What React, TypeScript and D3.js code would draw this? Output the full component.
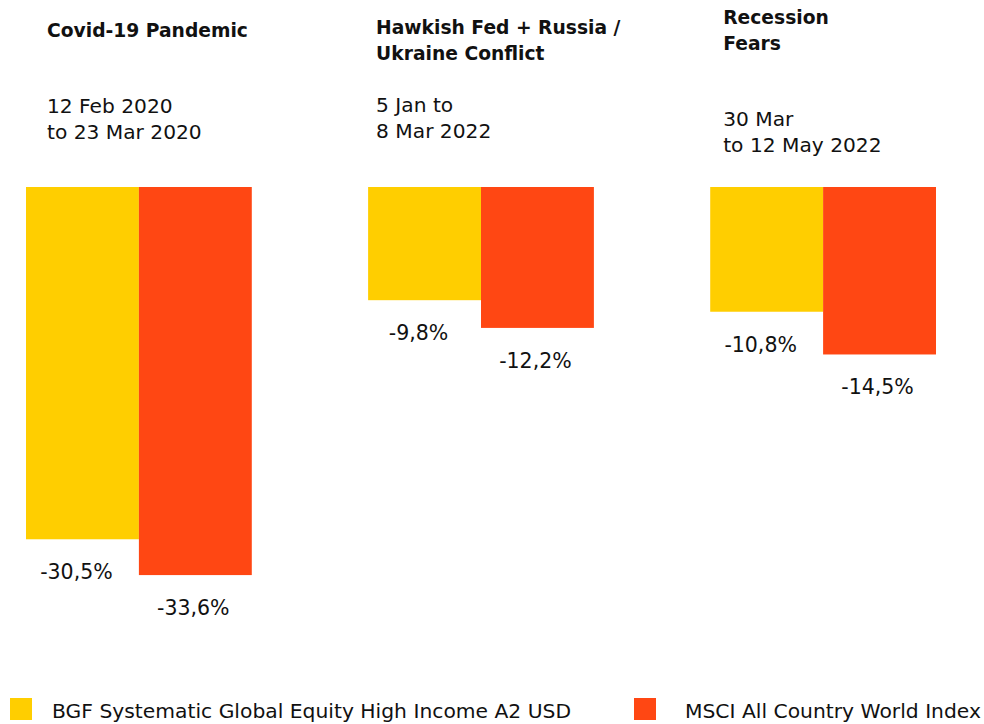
import React from "react";
import * as d3 from "d3";

// ---- data ----
const groups = ["Covid-19 Pandemic", "Hawkish Fed + Russia / Ukraine Conflict", "Recession Fears"];
const titleLines = [["Covid-19 Pandemic"], ["Hawkish Fed + Russia /", "Ukraine Conflict"], ["Recession", "Fears"]];
const dateLines = [["12 Feb 2020", "to 23 Mar 2020"], ["5 Jan to", "8 Mar 2022"], ["30 Mar", "to 12 May 2022"]];
const seriesNames = ["BGF Systematic Global Equity High Income A2 USD", "MSCI All Country World Index"];
const fundValues = [-30.5, -9.8, -10.8];
const indexValues = [-33.6, -12.2, -14.5];

// ---- layout ----
const W = 984;
const H = 724;
const COLORS = ["#FFCE00", "#FF4713"];
const FONT = "'DejaVu Sans', sans-serif";
const titleDx = [21, 8, 13];
const titleY = [37, 34, 24];
const dateY = [113, 112, 126];
const LINE = 25.5;
const legendSquareX = [10, 634];
const legendTextX = [52, 685];
const labelDx = [-6, -2];

const fmt = (v: number) => d3.format(".1f")(v).replace(".", ",").replace("−", "-") + "%";

export default function App() {
  const x0 = d3.scaleBand<string>().domain(groups).range([26, 936]).paddingInner(0.34).paddingOuter(0);
  const x1 = d3.scaleBand<string>().domain(seriesNames).range([0, x0.bandwidth()]);
  const y = d3.scaleLinear().domain([0, -35]).range([187, 187 + 35 * 11.55]);
  const series = [fundValues, indexValues];

  return (
    <svg width={W} height={H} style={{ position: "absolute", left: 0, top: 0, background: "#fff" }} fontFamily={FONT}>
      {groups.map((g, gi) => {
        const gx = x0(g)!;
        return (
          <g key={g}>
            {titleLines[gi].map((t, li) => (
              <text key={t} x={gx + titleDx[gi]} y={titleY[gi] + li * LINE} fontSize={18.7} fontWeight="bold" fill="#111">
                {t}
              </text>
            ))}
            {dateLines[gi].map((t, li) => (
              <text key={t} x={gx + titleDx[gi]} y={dateY[gi] + li * LINE} fontSize={20.2} fill="#111">
                {t}
              </text>
            ))}
            {seriesNames.map((s, si) => {
              const v = series[si][gi];
              const bx = gx + x1(s)!;
              return (
                <g key={s}>
                  <rect x={bx} y={y(0)} width={x1.bandwidth()} height={y(v) - y(0)} fill={COLORS[si]} />
                  <text x={bx + x1.bandwidth() / 2 + labelDx[si]} y={y(v) + 40} fontSize={20.5} textAnchor="middle" fill="#111">
                    {fmt(v)}
                  </text>
                </g>
              );
            })}
          </g>
        );
      })}
      {seriesNames.map((s, si) => (
        <g key={s}>
          <rect x={legendSquareX[si]} y={698} width={22} height={22} fill={COLORS[si]} />
          <text x={legendTextX[si]} y={718} fontSize={20.3} fill="#111">
            {s}
          </text>
        </g>
      ))}
    </svg>
  );
}
